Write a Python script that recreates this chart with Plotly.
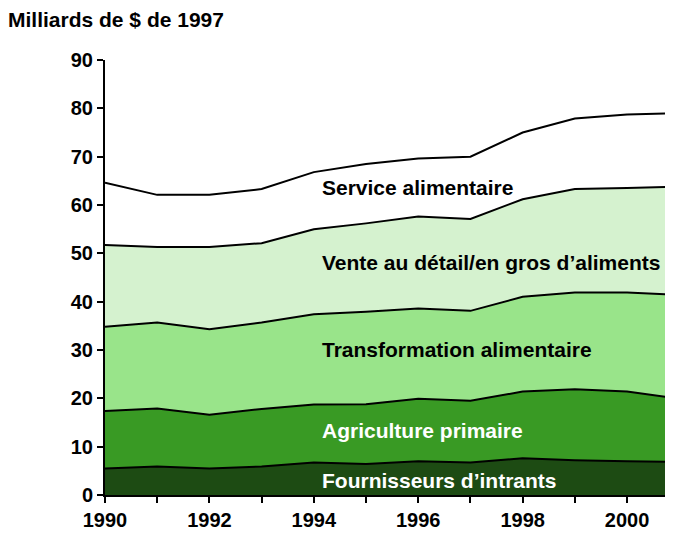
import plotly.graph_objects as go

years = list(range(1990, 2002))
fournisseurs = [5.5, 5.9, 5.5, 5.9, 6.7, 6.4, 7.0, 6.7, 7.6, 7.2, 7.0, 6.8]
agriculture = [11.9, 12.0, 11.1, 11.9, 12.0, 12.4, 12.9, 12.8, 13.8, 14.7, 14.4, 13.1]
transformation = [17.4, 17.8, 17.7, 17.9, 18.7, 19.1, 18.7, 18.6, 19.6, 20.0, 20.5, 21.5]
vente = [16.9, 15.6, 17.0, 16.4, 17.6, 18.3, 19.0, 19.0, 20.2, 21.4, 21.6, 22.4]
service = [12.9, 10.8, 10.8, 11.2, 11.8, 12.3, 12.0, 12.9, 13.8, 14.6, 15.2, 15.2]

series = [
    ("Fournisseurs d’intrants", fournisseurs, "#1d4b13", "white", 2.9),
    ("Agriculture primaire", agriculture, "#399a24", "white", 13.4),
    ("Transformation alimentaire", transformation, "#99e48a", "black", 30.2),
    ("Vente au détail/en gros d’aliments", vente, "#d5f2cf", "black", 48.2),
    ("Service alimentaire", service, "#ffffff", "black", 63.7),
]

FONT = "Arial, Liberation Sans, sans-serif"
fig = go.Figure()
for name, vals, col, tcol, ly in series:
    fig.add_trace(go.Scatter(
        x=years, y=vals, name=name, mode="lines", stackgroup="one",
        line=dict(color="black", width=2), fillcolor=col,
    ))
    fig.add_annotation(x=1994.12, y=ly, xref="x", yref="y", text=name,
                       showarrow=False, xanchor="left", yanchor="middle",
                       font=dict(family=FONT, size=21, color=tcol, weight="bold"))

# page body has an 8px default margin, so compensate
fig.update_layout(
    width=673, height=535,
    margin=dict(l=97, r=8, t=52, b=48),
    paper_bgcolor="white", plot_bgcolor="white",
    showlegend=False,
    font=dict(family=FONT, size=20, color="black"),
    title=dict(text="<b>Milliards de $ de 1997</b>", x=0, xanchor="left",
               y=1 - 12/535, yanchor="middle",
               font=dict(family=FONT, size=21, color="black")),
)
fig.update_xaxes(
    range=[1990, 2000.88], showgrid=False, zeroline=False,
    showline=True, linecolor="black", linewidth=2,
    tickvals=list(range(1990, 2002, 2)), ticks="outside", ticklen=6,
    tickwidth=2, tickcolor="black",
    minor=dict(dtick=1, tick0=1990, ticks="outside", ticklen=6, tickwidth=2, tickcolor="black"),
    tickfont=dict(family=FONT, size=20, color="black", weight="bold"),
)
fig.update_yaxes(
    range=[0, 90], dtick=10, showgrid=False, zeroline=False,
    showline=True, linecolor="black", linewidth=2,
    ticks="outside", ticklen=6, tickwidth=2, tickcolor="black",
    tickfont=dict(family=FONT, size=20, color="black", weight="bold"),
)
fig.write_html("out.html")
